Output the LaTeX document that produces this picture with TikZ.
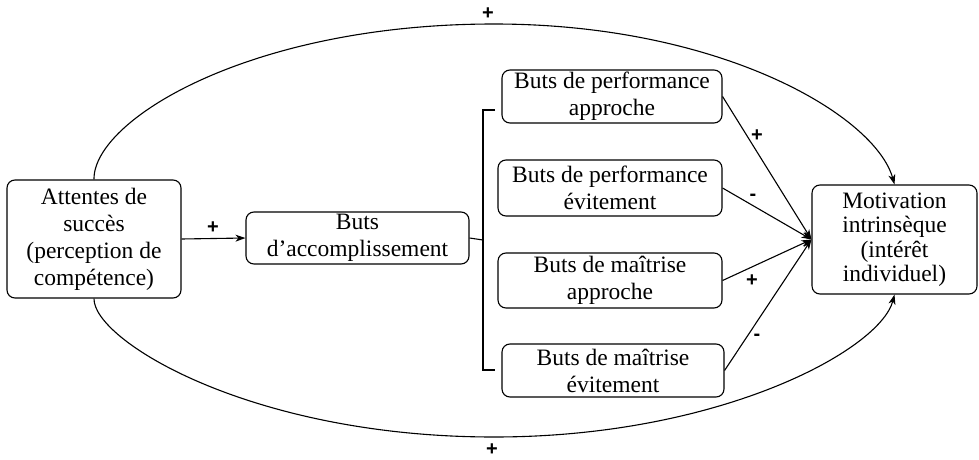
\documentclass[tikz,border=0pt]{standalone}
\usepackage{fontspec}
\setmainfont{Liberation Serif}
\newfontfamily\signfont{Liberation Sans}
\usetikzlibrary{arrows.meta}
\begin{document}
\begin{tikzpicture}[x=1pt,y=-1pt,
  box/.style={draw=black, line width=1.1pt, rounded corners=8pt, align=center,
    inner sep=0pt, font=\fontsize{23.5}{27}\selectfont},
  link/.style={line width=1.1pt},
  arr/.style={line width=1.1pt, -{Stealth[length=10pt,width=7pt,inset=3pt]}},
  sign/.style={font=\signfont\bfseries\fontsize{20}{20}\selectfont, inner sep=0pt}]
\useasboundingbox (0,0) rectangle (979,460);
\fill[white] (0,0) rectangle (979,460);

\node[box, minimum width=174pt, minimum height=118pt] (att) at (94,239)
  {Attentes de\\succès\\(perception de\\compétence)};
\node[box, minimum width=223pt, minimum height=52pt] (acc) at (357.5,238)
  {Buts\\d’accomplissement};
\node[box, minimum width=220pt, minimum height=53pt] (b1) at (612,96.5)
  {Buts de performance\\approche};
\node[box, minimum width=224pt, minimum height=56pt] (b2) at (610,188)
  {Buts de performance\\évitement};
\node[box, minimum width=224pt, minimum height=55pt] (b3) at (610,280.5)
  {Buts de maîtrise\\approche};
\node[box, minimum width=222pt, minimum height=53pt] (b4) at (613,370.5)
  {Buts de maîtrise\\évitement};
\node[box, minimum width=165pt, minimum height=109pt,
  font=\fontsize{23.5}{24.5}\selectfont] (mot) at (894.5,239.5)
  {Motivation\\intrinsèque\\(intérêt\\individuel)};

% arrow attentes -> buts
\draw[arr] (att.east) -- (acc.west);
\node[sign] (pA) at (213,228) {+};

% bracket
\coordinate (brm) at (483,240);
\coordinate (brt) at (483,110);
\coordinate (brb) at (483,370);
\coordinate (tt) at (495,110);
\coordinate (tb) at (495,370);
\draw[link] (acc.east) -- (brm);
\draw[link] (tt) -- (brt) -- (brb) -- (tb);

% convergent arrows
\draw[arr] (b1.east) -- (mot.west);
\draw[arr] (b2.east) -- (mot.west);
\draw[arr] (b3.east) -- (mot.west);
\draw[arr] (b4.east) -- (mot.west);
\node[sign] (s1) at (757,136) {+};
\node[sign] (s2) at (753,197) {-};
\node[sign] (s3) at (752,281) {+};
\node[sign] (s4) at (757,337) {-};

% big arcs
\coordinate (topmid) at (494,24);
\coordinate (botmid) at (494,437);
\draw[arr] (att.north) .. controls (93,120) and (250,24) .. (topmid)
  .. controls (720,24) and (875,115) .. (mot.north);
\draw[arr] (att.south) .. controls (93,340) and (250,437) .. (botmid)
  .. controls (720,437) and (880,350) .. (mot.south);
\node[sign] (pT) at (488,14) {+};
\node[sign] (pB) at (492,450) {+};
\end{tikzpicture}
\end{document}
